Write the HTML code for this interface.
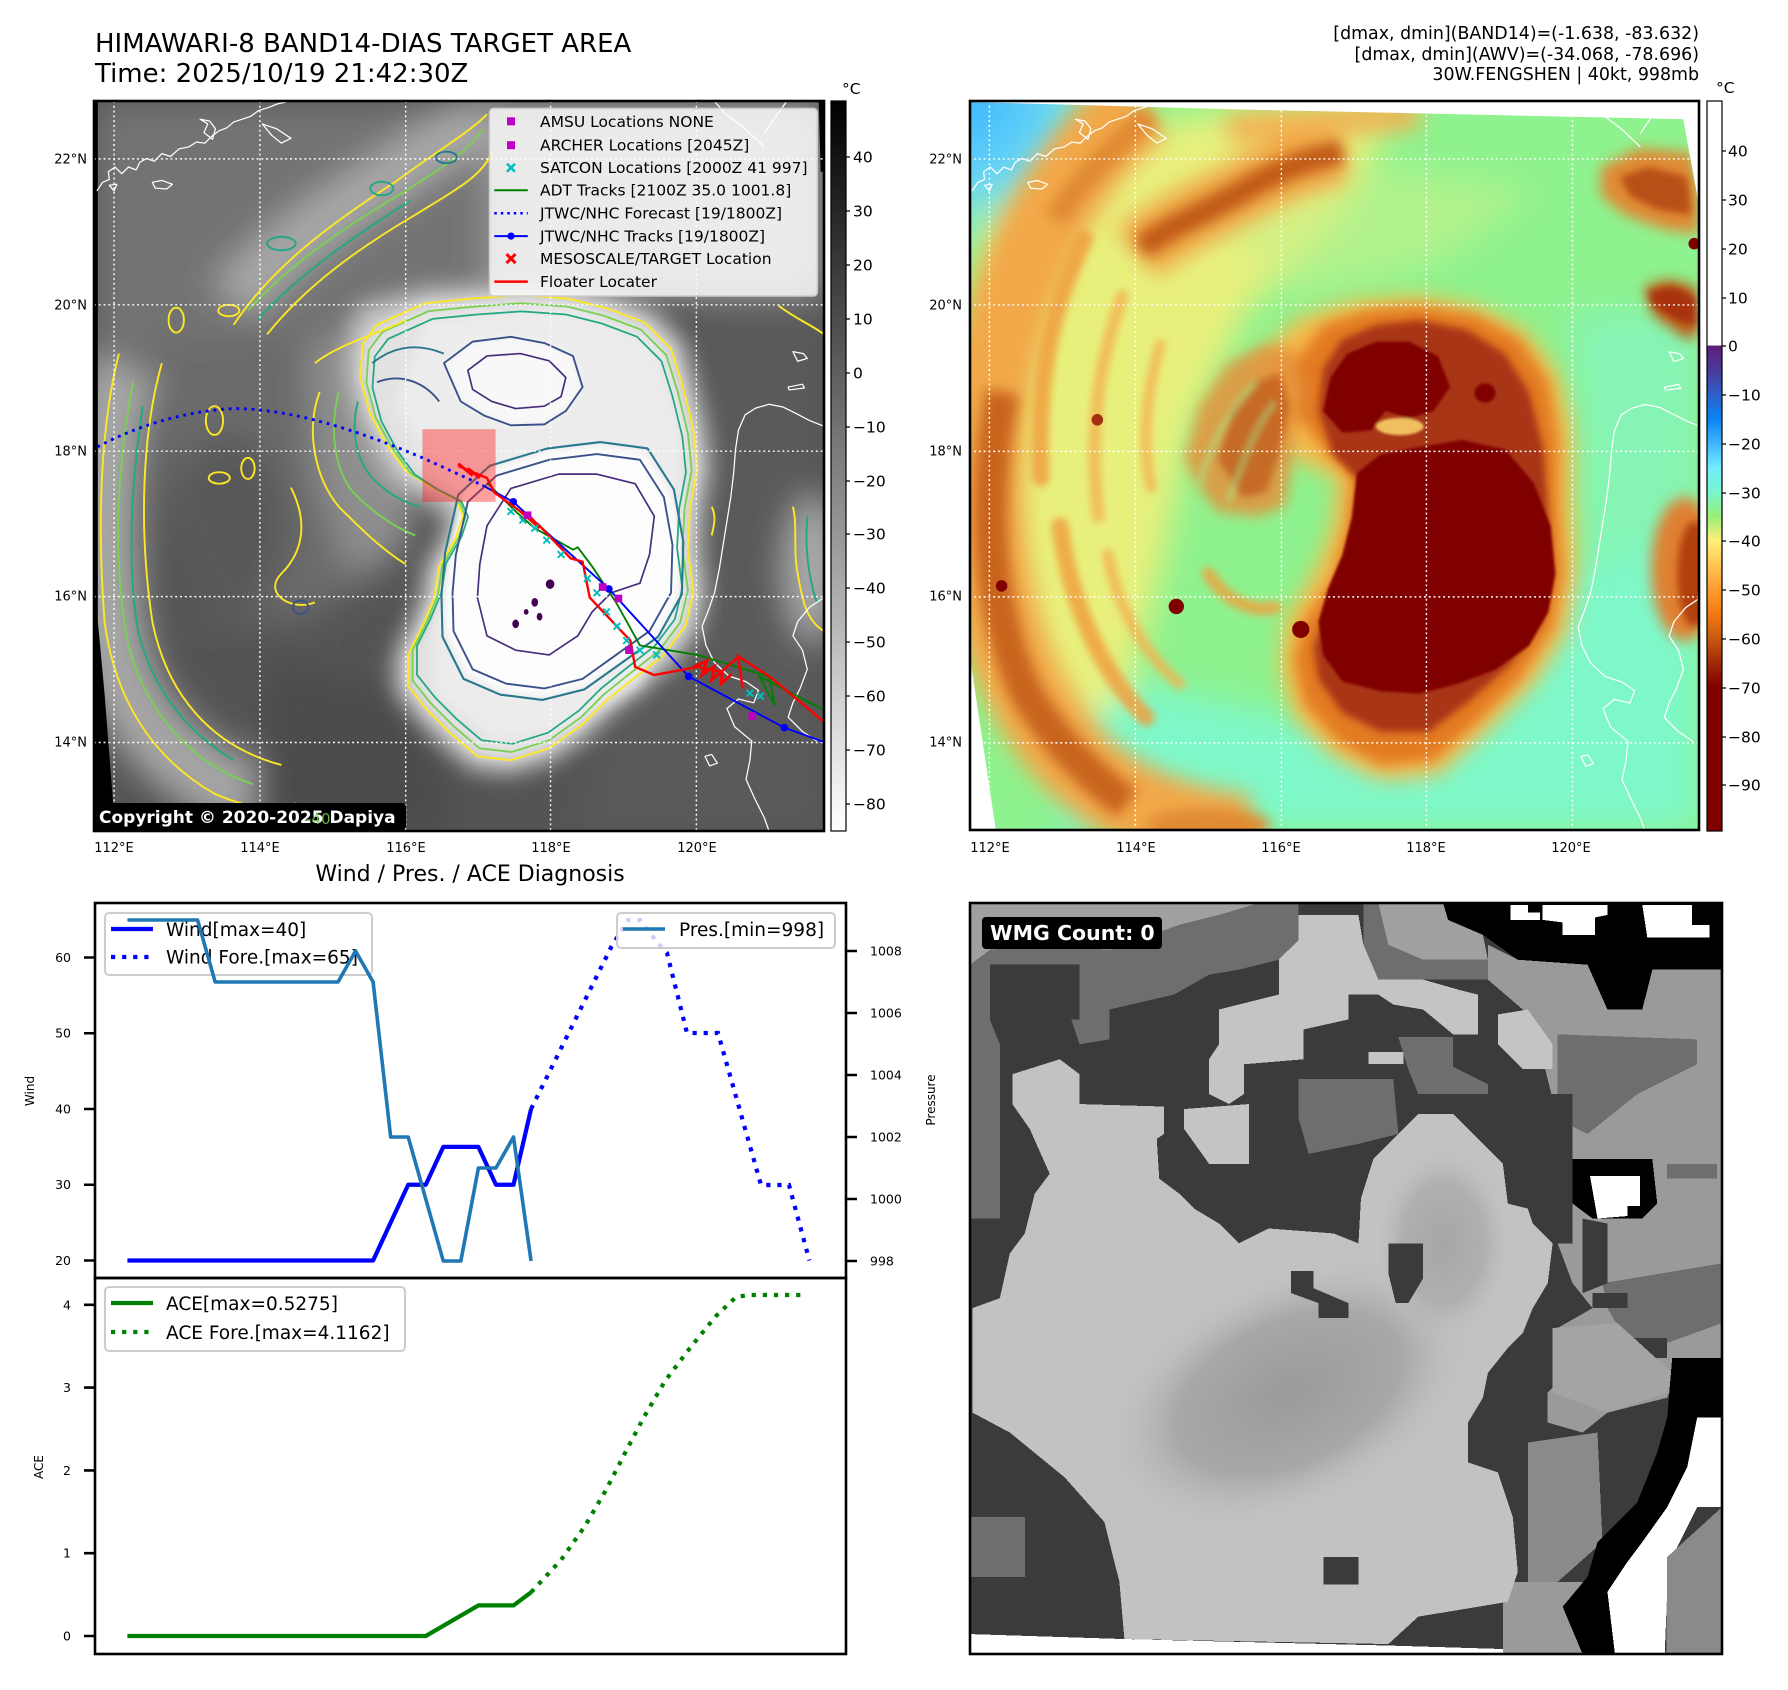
<!DOCTYPE html>
<html><head><meta charset="utf-8"><style>
html,body{margin:0;padding:0;background:#fff;}
svg text{font-family:"DejaVu Sans","Liberation Sans",sans-serif;}
</style></head><body>
<svg xmlns="http://www.w3.org/2000/svg" xmlns:xlink="http://www.w3.org/1999/xlink" width="1788" height="1690" viewBox="0 0 1788 1690" style="display:block">
<defs>
<filter id="f35" x="-50%" y="-50%" width="200%" height="200%"><feGaussianBlur stdDeviation="35"/></filter>
<filter id="f22" x="-50%" y="-50%" width="200%" height="200%"><feGaussianBlur stdDeviation="22"/></filter>
<filter id="f14" x="-50%" y="-50%" width="200%" height="200%"><feGaussianBlur stdDeviation="14"/></filter>
<filter id="f8" x="-50%" y="-50%" width="200%" height="200%"><feGaussianBlur stdDeviation="8"/></filter>
<filter id="f3" x="-50%" y="-50%" width="200%" height="200%"><feGaussianBlur stdDeviation="3"/></filter>
<linearGradient id="gcb" x1="0" y1="0" x2="0" y2="1"><stop offset="0" stop-color="#000"/><stop offset="1" stop-color="#fff"/></linearGradient>
<linearGradient id="awv" x1="0" y1="0" x2="0" y2="1">
<stop offset="0" stop-color="#fff"/><stop offset="0.335" stop-color="#fff"/>
<stop offset="0.3353" stop-color="#5e1e78"/><stop offset="0.3687" stop-color="#4a3a9c"/>
<stop offset="0.4021" stop-color="#2e60c8"/><stop offset="0.4355" stop-color="#0a84f2"/>
<stop offset="0.4689" stop-color="#40b4ff"/><stop offset="0.5023" stop-color="#72ecff"/>
<stop offset="0.5357" stop-color="#78f6cc"/><stop offset="0.5691" stop-color="#98f078"/>
<stop offset="0.6025" stop-color="#fff07a"/><stop offset="0.6359" stop-color="#ffc452"/>
<stop offset="0.6693" stop-color="#ff9c30"/><stop offset="0.7027" stop-color="#f27a12"/>
<stop offset="0.7361" stop-color="#c85a10"/><stop offset="0.7695" stop-color="#a02a08"/>
<stop offset="0.8029" stop-color="#800000"/><stop offset="1" stop-color="#800000"/>
</linearGradient>
<radialGradient id="cyanc" cx="0.5" cy="0.5" r="0.5"><stop offset="0" stop-color="#3cb4ff"/><stop offset="0.55" stop-color="#6ad8f4"/><stop offset="1" stop-color="#8ef0c0" stop-opacity="0"/></radialGradient>
<radialGradient id="wcore" cx="0.5" cy="0.5" r="0.5"><stop offset="0" stop-color="#9a9a9a"/><stop offset="0.6" stop-color="#a8a8a8"/><stop offset="1" stop-color="#c2c2c2" stop-opacity="0"/></radialGradient>
<g id="cx"><path d="M-7,-7 L7,7 M-7,7 L7,-7" stroke="#00bfbf" stroke-width="4"/></g>
</defs>
<rect width="1788" height="1690" fill="#fff"/>

<!-- Titles -->
<text x="95" y="52" font-size="26">HIMAWARI-8 BAND14-DIAS TARGET AREA</text>
<text x="95" y="82" font-size="26">Time: 2025/10/19 21:42:30Z</text>
<text x="1699" y="39" font-size="17.4" text-anchor="end">[dmax, dmin](BAND14)=(-1.638, -83.632)</text>
<text x="1699" y="60" font-size="17.4" text-anchor="end">[dmax, dmin](AWV)=(-34.068, -78.696)</text>
<text x="1699" y="80" font-size="17.4" text-anchor="end">30W.FENGSHEN | 40kt, 998mb</text>

<!-- ================= LEFT IR MAP ================= -->
<svg x="94" y="101" width="730" height="730" viewBox="8 12 1527 1526" preserveAspectRatio="none" overflow="hidden">
<rect x="8" y="12" width="1527" height="1526" fill="#545454"/>
<g filter="url(#f35)">
<polygon points="8,12 1535,12 1535,330 1250,430 1000,400 700,430 450,520 250,520 8,560" fill="#737373"/>
<path d="M300,430 C380,330 520,240 650,155 C720,105 780,75 840,50" stroke="#a8a8a8" stroke-width="110" fill="none"/>
<polygon points="830,12 1535,12 1535,420 830,420" fill="#9a9a9a"/>
<path d="M70,560 C20,750 10,1000 60,1200 C110,1350 250,1460 420,1490" stroke="#a6a6a6" stroke-width="150" fill="none"/>
<polygon points="140,520 600,480 680,700 620,1000 450,1100 250,1100 160,900" fill="#6a6a6a"/>
<polygon points="450,520 650,470 720,700 660,950 540,1000 470,800" fill="#8e8e8e"/>
<ellipse cx="290" cy="900" rx="120" ry="190" fill="#585858"/>
<polygon points="380,1190 700,1260 760,1538 330,1538" fill="#4c4c4c"/>
<polygon points="1280,440 1535,440 1535,1538 1020,1538 1090,1300 1260,1150" fill="#5a5a5a"/>
<ellipse cx="1515" cy="990" rx="60" ry="150" fill="#aaaaaa"/>
</g>
<g filter="url(#f22)">
<polygon points="560,440 700,400 800,395 900,390 1000,395 1090,415 1180,450 1245,515 1270,610 1292,700 1300,780 1285,860 1280,950 1292,1040 1275,1120 1225,1190 1150,1250 1095,1290 1040,1345 965,1395 880,1420 800,1412 735,1360 680,1305 635,1245 635,1170 665,1110 690,1050 700,985 735,925 745,880 700,850 630,810 590,740 555,670 535,590 535,510" fill="#c0c0c0"/>
</g>
<g filter="url(#f14)">
<polygon points="600,480 700,435 800,425 900,418 1000,425 1080,445 1160,475 1215,530 1240,610 1262,700 1270,780 1255,860 1250,950 1262,1040 1245,1110 1200,1170 1130,1225 1080,1265 1030,1315 960,1365 880,1390 810,1382 755,1335 705,1285 665,1235 665,1170 695,1110 720,1050 730,985 765,925 780,880 765,845 715,820 660,785 620,730 585,665 565,590 570,520" fill="#e2e2e2"/>
<polygon points="700,470 1000,440 1180,520 1240,700 1230,900 1230,1100 1150,1230 1000,1330 850,1350 720,1250 720,1100 780,950 800,850 720,780 640,650" fill="#ececec"/>
</g>
<g filter="url(#f8)">
<polygon points="780,830 850,780 960,745 1060,735 1160,750 1215,835 1235,940 1230,1045 1185,1130 1110,1185 1035,1235 950,1255 865,1245 790,1210 745,1125 743,1040 752,955" fill="#fdfdfd"/>
<polygon points="740,560 800,515 880,505 950,518 1010,545 1030,610 995,660 950,688 880,690 825,670 775,640" fill="#f8f8f8"/>
</g>
<!-- contours -->
<g fill="none" stroke-width="4" stroke-linejoin="round">
<polygon points="600,480 700,435 800,425 900,418 1000,425 1080,445 1160,475 1215,530 1240,610 1262,700 1270,780 1255,860 1250,950 1262,1040 1245,1110 1200,1170 1130,1225 1080,1265 1030,1315 960,1365 880,1390 810,1382 755,1335 705,1285 665,1235 665,1170 695,1110 720,1050 730,985 765,925 780,880 765,845 715,820 660,785 620,730 585,665 565,590 570,520" stroke="#fde725"/>
<polygon points="600,480 700,435 800,425 900,418 1000,425 1080,445 1160,475 1215,530 1240,610 1262,700 1270,780 1255,860 1250,950 1262,1040 1245,1110 1200,1170 1130,1225 1080,1265 1030,1315 960,1365 880,1390 810,1382 755,1335 705,1285 665,1235 665,1170 695,1110 720,1050 730,985 765,925 780,880 765,845 715,820 660,785 620,730 585,665 565,590 570,520" stroke="#7ad151" transform="translate(930,900) scale(0.965) translate(-930,-900)"/>
<polygon points="600,480 700,435 800,425 900,418 1000,425 1080,445 1160,475 1215,530 1240,610 1262,700 1270,780 1255,860 1250,950 1262,1040 1245,1110 1200,1170 1130,1225 1080,1265 1030,1315 960,1365 880,1390 810,1382 755,1335 705,1285 665,1235 665,1170 695,1110 720,1050 730,985 765,925 780,880 765,845 715,820 660,785 620,730 585,665 565,590 570,520" stroke="#22a884" transform="translate(930,900) scale(0.93) translate(-930,-900)"/>
<polygon points="790,850 850,795 960,762 1060,750 1150,762 1200,840 1218,940 1215,1040 1170,1120 1100,1170 1030,1220 950,1240 870,1230 800,1200 760,1120 758,1040 765,960" stroke="#2a788e" transform="translate(990,1000) scale(1.1) translate(-990,-1000)"/>
<polygon points="790,850 850,795 960,762 1060,750 1150,762 1200,840 1218,940 1215,1040 1170,1120 1100,1170 1030,1220 950,1240 870,1230 800,1200 760,1120 758,1040 765,960" stroke="#3b528b"/>
<polygon points="830,900 880,822 980,792 1060,792 1140,812 1180,880 1170,960 1150,1020 1090,1040 1050,1080 1020,1130 960,1170 890,1160 830,1130 810,1050 815,980" stroke="#472d7b" stroke-width="3.5"/>
<polygon points="740,560 800,515 880,505 950,518 1010,545 1030,610 995,660 950,688 880,690 825,670 775,640" stroke="#3b528b"/>
<polygon points="790,575 830,545 900,540 960,555 995,590 985,630 950,650 890,655 840,640 800,615" stroke="#472d7b" stroke-width="3.5"/>
<path d="M60,540 C20,700 15,900 30,1100 C50,1250 120,1380 260,1460 C330,1490 390,1500 430,1480" stroke="#fde725"/>
<path d="M150,560 C110,700 100,900 130,1100 C160,1250 250,1360 400,1400" stroke="#fde725"/>
<path d="M90,600 C50,800 50,1000 80,1150 C120,1300 220,1400 340,1440" stroke="#7ad151"/>
<path d="M110,650 C80,850 80,1000 100,1120 C130,1240 200,1330 300,1390" stroke="#22a884"/>
<path d="M300,480 C380,360 500,270 640,180 C720,120 790,80 830,40" stroke="#fde725"/>
<path d="M370,500 C450,400 560,320 680,250 C760,200 820,170 840,120" stroke="#fde725"/>
<path d="M330,450 C420,350 540,270 660,200 C740,150 800,110 820,70" stroke="#7ad151"/>
<path d="M350,470 C440,370 560,290 670,220" stroke="#22a884"/>
<ellipse cx="400" cy="310" rx="30" ry="14" stroke="#22a884"/>
<ellipse cx="610" cy="195" rx="24" ry="14" stroke="#22a884"/>
<ellipse cx="745" cy="130" rx="22" ry="12" stroke="#2a788e"/>
<path d="M470,560 C520,520 600,500 660,470" stroke="#fde725"/>
<path d="M480,620 C450,700 470,800 520,860 C560,900 610,950 660,980" stroke="#fde725"/>
<path d="M520,620 C500,700 510,780 550,830 C590,870 630,900 680,920" stroke="#7ad151"/>
<path d="M560,640 C545,700 555,760 590,800 C620,830 650,850 690,860" stroke="#22a884"/>
<path d="M590,560 C640,520 690,520 740,540" stroke="#2a788e"/>
<path d="M600,600 C650,580 700,600 730,640" stroke="#3b528b"/>
<path d="M420,820 C460,900 440,960 400,1000 C360,1040 420,1080 470,1060" stroke="#fde725"/>
<ellipse cx="290" cy="450" rx="22" ry="12" stroke="#fde725"/>
<ellipse cx="180" cy="470" rx="16" ry="26" stroke="#fde725"/>
<ellipse cx="260" cy="680" rx="18" ry="30" stroke="#fde725"/>
<ellipse cx="330" cy="780" rx="14" ry="22" stroke="#fde725"/>
<ellipse cx="270" cy="800" rx="22" ry="12" stroke="#fde725"/>
<ellipse cx="440" cy="1070" rx="16" ry="14" stroke="#3b528b"/>
<path d="M1470,860 C1480,900 1470,950 1480,1000 C1490,1060 1500,1100 1535,1120" stroke="#fde725"/>
<path d="M1500,880 C1495,940 1500,1000 1520,1060" stroke="#22a884"/>
<path d="M1440,440 C1480,470 1510,480 1535,500" stroke="#fde725"/>
<path d="M1300,860 C1310,880 1305,900 1300,920" stroke="#fde725"/>
</g>
<!-- black no-data -->
<polygon points="8,12 16,12 16,1100 30,1250 48,1480 48,1538 8,1538" fill="#000"/>
<polygon points="1524,12 1535,12 1535,160 1528,160" fill="#000"/>
<!-- coastlines -->
<g id="coast" fill="none" stroke="#fff" stroke-width="2.6" stroke-linejoin="round">
<path d="M14,200 L26,182 L40,176 L38,160 L52,150 L66,164 L80,150 L96,156 L104,140 L118,132 L134,138 L150,122 L168,128 L186,112 L206,108 L222,98 L240,100 L254,86 L270,74 L286,68 L300,56 L318,50 L336,44 L352,32 L372,26 L392,18 L410,14"/>
<path d="M130,182 L150,178 L172,186 L160,196 L136,194 Z"/>
<path d="M40,188 L56,186 L50,200 Z"/>
<path d="M230,50 L246,60 L238,78 L256,92 L262,70 L250,54 Z"/>
<path d="M360,60 L390,70 L420,90 L400,100 L380,84 Z"/>
<path d="M1307,14 L1330,40 L1370,70 L1410,108"/>
<path d="M1456,14 L1430,50 L1410,80"/>
<path d="M1535,692 L1505,680 L1478,666 L1450,652 L1420,646 L1392,654 L1370,668 L1356,700 L1350,740 L1346,790 L1340,840 L1332,890 L1324,940 L1316,990 L1306,1040 L1292,1080 L1280,1110 L1288,1150 L1306,1186 L1336,1214 L1372,1226 L1398,1244 L1388,1270 L1356,1262 L1332,1282 L1348,1320 L1384,1350 L1380,1390 L1372,1430 L1390,1470 L1410,1510 L1420,1538"/>
<path d="M1535,1050 L1505,1070 L1480,1100 L1470,1130 L1490,1160 L1500,1200 L1485,1240 L1470,1270 L1460,1300 L1490,1330 L1520,1350"/>
<path d="M1286,1382 L1300,1378 L1312,1396 L1296,1402 Z"/>
<path d="M1470,536 L1492,540 L1500,550 L1480,556 Z"/>
<path d="M1460,610 L1490,604 L1494,612 L1462,616 Z"/>
</g>
<!-- grid -->
<g id="grid" stroke="#fff" stroke-width="3" stroke-dasharray="4 6" fill="none">
<path d="M50,12 V1538 M355,12 V1538 M660,12 V1538 M963,12 V1538 M1268,12 V1538"/>
<path d="M8,133 H1535 M8,438 H1535 M8,744 H1535 M8,1048 H1535 M8,1353 H1535"/>
</g>
<!-- target box -->
<rect x="695" y="698" width="153" height="152" fill="#ff2020" fill-opacity="0.42"/>
<!-- tracks -->
<path d="M15,735 C100,690 200,660 300,655 C420,655 560,700 700,760 L820,815" stroke="#0000ff" stroke-width="6" stroke-dasharray="6 10" fill="none"/>
<polyline points="830,810 890,870 930,905 1010,950 1020,945 1050,985 1100,1060 1150,1150 1270,1170 1420,1215 1432,1275 1400,1215 1535,1285" stroke="#008000" stroke-width="4" fill="none"/>
<polyline points="820,815 885,850 1085,1032 1252,1215 1452,1322 1535,1352" stroke="#0000ff" stroke-width="4" fill="none"/>
<g fill="#0000ff"><circle cx="885" cy="850" r="8"/><circle cx="1085" cy="1032" r="8"/><circle cx="1252" cy="1215" r="8"/><circle cx="1452" cy="1322" r="8"/></g>
<polyline points="770,775 830,800 845,830 900,870 940,900 1005,968 1030,975 1045,1050 1130,1140 1140,1195 1180,1212 1270,1195 1320,1205 1355,1175 1365,1240 1355,1172 1425,1218 1535,1310" stroke="#ff0000" stroke-width="5" fill="none"/>
<path d="M1262,1195 L1290,1182 L1280,1212 L1306,1194 L1300,1222 L1322,1204 L1320,1230 L1342,1210 M900,870 L935,900 M915,875 L940,905 M770,770 L800,795 M790,780 L815,800" stroke="#ff0000" stroke-width="6" fill="none"/>
<g>
<use xlink:href="#cx" x="880" y="870"/><use xlink:href="#cx" x="905" y="888"/><use xlink:href="#cx" x="930" y="905"/><use xlink:href="#cx" x="955" y="930"/><use xlink:href="#cx" x="985" y="960"/><use xlink:href="#cx" x="1040" y="1010"/><use xlink:href="#cx" x="1060" y="1040"/><use xlink:href="#cx" x="1080" y="1080"/><use xlink:href="#cx" x="1102" y="1110"/><use xlink:href="#cx" x="1122" y="1140"/><use xlink:href="#cx" x="1150" y="1160"/><use xlink:href="#cx" x="1185" y="1170"/><use xlink:href="#cx" x="1380" y="1250"/><use xlink:href="#cx" x="1402" y="1256"/>
</g>
<g fill="#bf00bf"><rect x="1064" y="1020" width="16" height="16"/><rect x="1097" y="1044" width="16" height="16"/><rect x="1119" y="1152" width="16" height="16"/><rect x="1377" y="1290" width="16" height="16"/><rect x="907" y="870" width="16" height="16"/></g>
<g fill="#440154"><ellipse cx="890" cy="1105" rx="7" ry="9"/><ellipse cx="930" cy="1060" rx="7" ry="9"/><ellipse cx="962" cy="1022" rx="9" ry="10"/><ellipse cx="940" cy="1090" rx="6" ry="8"/><ellipse cx="912" cy="1080" rx="5" ry="6"/></g>
</svg>
<rect x="94" y="101" width="730" height="730" fill="none" stroke="#000" stroke-width="2.6"/>

<!-- Left legend -->
<rect x="489.5" y="108.4" width="327.8" height="187.6" rx="4" fill="#fff" fill-opacity="0.8" stroke="#cccccc" stroke-width="1.5"/>
<g font-size="15.5" fill="#000">
<text x="540" y="126.8">AMSU Locations NONE</text>
<text x="540" y="150.7">ARCHER Locations [2045Z]</text>
<text x="540" y="173.2">SATCON Locations [2000Z 41 997]</text>
<text x="540" y="195.7">ADT Tracks [2100Z 35.0 1001.8]</text>
<text x="540" y="218.7">JTWC/NHC Forecast [19/1800Z]</text>
<text x="540" y="241.6">JTWC/NHC Tracks [19/1800Z]</text>
<text x="540" y="264.1">MESOSCALE/TARGET Location</text>
<text x="540" y="287.1">Floater Locater</text>
</g>
<rect x="507" y="117.3" width="8" height="8" fill="#bf00bf"/>
<rect x="507" y="141.2" width="8" height="8" fill="#bf00bf"/>
<path d="M507,163.7 L515,171.7 M507,171.7 L515,163.7" stroke="#00bfbf" stroke-width="2.5"/>
<line x1="494.3" y1="190.2" x2="527.8" y2="190.2" stroke="#008000" stroke-width="2"/>
<line x1="494.3" y1="213.2" x2="527.8" y2="213.2" stroke="#0000ff" stroke-width="2.5" stroke-dasharray="2.5 4"/>
<line x1="494.3" y1="236.1" x2="527.8" y2="236.1" stroke="#0000ff" stroke-width="2"/>
<circle cx="511" cy="236.1" r="3.6" fill="#0000ff"/>
<path d="M506.5,254.1 L515.5,263.1 M506.5,263.1 L515.5,254.1" stroke="#ff0000" stroke-width="3"/>
<line x1="494.3" y1="281.6" x2="527.8" y2="281.6" stroke="#ff0000" stroke-width="2.5"/>

<!-- copyright -->
<rect x="94" y="803" width="312" height="27" rx="4" fill="#000"/>
<text x="99" y="823" font-size="17" font-weight="bold" fill="#fff">Copyright © 2020-2025 Dapiya</text>
<text x="306" y="824" font-size="15" fill="#7ad151" fill-opacity="0.85">-40</text>

<!-- Left colorbar -->
<rect x="831" y="101" width="15" height="730" fill="url(#gcb)" stroke="#000" stroke-width="1.2"/>
<text x="842" y="94" font-size="15.5">°C</text>
<g font-size="15.5">
<text x="853" y="162.5">40</text><text x="853" y="216.5">30</text><text x="853" y="270.5">20</text><text x="853" y="324.5">10</text><text x="853" y="378.5">0</text>
<text x="853" y="432.5">−10</text><text x="853" y="486.5">−20</text><text x="853" y="539.5">−30</text><text x="853" y="593.5">−40</text><text x="853" y="647.5">−50</text>
<text x="853" y="701.5">−60</text><text x="853" y="755.5">−70</text><text x="853" y="809.5">−80</text>
</g>
<g stroke="#000" stroke-width="1.2"><path d="M846,157h4M846,211h4M846,265h4M846,319h4M846,373h4M846,427h4M846,481h4M846,534h4M846,588h4M846,642h4M846,696h4M846,750h4M846,804h4"/></g>

<!-- map tick labels -->
<g font-size="13" text-anchor="middle">
<text x="114" y="852">112°E</text><text x="260" y="852">114°E</text><text x="406" y="852">116°E</text><text x="551" y="852">118°E</text><text x="697" y="852">120°E</text>
<text x="990" y="852">112°E</text><text x="1136" y="852">114°E</text><text x="1281" y="852">116°E</text><text x="1426" y="852">118°E</text><text x="1571" y="852">120°E</text>
</g>
<g font-size="13" text-anchor="end">
<text x="87" y="163.5">22°N</text><text x="87" y="309.5">20°N</text><text x="87" y="455.5">18°N</text><text x="87" y="600.5">16°N</text><text x="87" y="746.5">14°N</text>
<text x="962" y="163.5">22°N</text><text x="962" y="309.5">20°N</text><text x="962" y="455.5">18°N</text><text x="962" y="600.5">16°N</text><text x="962" y="746.5">14°N</text>
</g>

<!-- ================= RIGHT AWV MAP ================= -->
<svg x="970" y="101" width="729" height="729" viewBox="22 12 1523 1523" preserveAspectRatio="none" overflow="hidden">
<rect x="22" y="12" width="1523" height="1523" fill="#8ef28e"/>
<g filter="url(#f35)">
<polygon points="250,1200 700,1300 1000,1300 1250,1000 1545,850 1545,1535 200,1535" fill="#7ef8c8"/>
<polygon points="1280,450 1545,450 1545,900 1300,1000" fill="#86f4b4"/>
<polygon points="60,150 500,40 900,40 800,250 600,450 480,700 420,1000 350,1250 200,1350 60,1200 30,800" fill="#f2f07a" fill-opacity="0.9"/>
<polygon points="500,250 900,150 1200,200 1000,350 700,420" fill="#caf28a" fill-opacity="0.6"/>
<circle cx="22" cy="12" r="330" fill="url(#cyanc)"/>
</g>
<g filter="url(#f22)">
<path d="M380,20 C220,140 90,380 55,680 C30,980 90,1230 240,1390 C330,1480 450,1530 600,1545" stroke="#f2a848" stroke-width="170" fill="none"/>
<path d="M370,330 C440,270 520,240 600,195 C680,150 740,130 800,120" stroke="#f0a444" stroke-width="130" fill="none"/>
<path d="M560,70 L960,40" stroke="#f2b452" stroke-width="60" fill="none"/>
</g>
<g filter="url(#f8)" fill="none" stroke-linecap="round">
<path d="M260,300 C190,450 160,600 170,800" stroke="#f0a040" stroke-width="36" stroke-opacity="0.85"/>
<path d="M340,420 C290,560 270,700 290,880" stroke="#f4b050" stroke-width="26" stroke-opacity="0.8"/>
<path d="M210,900 C230,1050 290,1200 390,1300" stroke="#f0a040" stroke-width="36" stroke-opacity="0.85"/>
<path d="M310,960 C330,1070 380,1160 460,1230" stroke="#f4b050" stroke-width="24" stroke-opacity="0.8"/>
<path d="M420,520 C390,620 380,720 400,820" stroke="#f4b050" stroke-width="22" stroke-opacity="0.8"/>
<path d="M520,1000 C560,1060 610,1080 660,1070" stroke="#f0a040" stroke-width="28" stroke-opacity="0.8"/>
</g>
<g filter="url(#f14)">
<path d="M90,620 C45,850 60,1080 140,1250 C200,1350 270,1420 350,1480" stroke="#c8641e" stroke-width="70" fill="none"/>
<path d="M400,40 C320,110 250,180 200,260" stroke="#e08a30" stroke-width="50" fill="none"/>
<path d="M380,320 C440,270 520,245 600,195 C680,150 740,130 800,120" stroke="#c05a14" stroke-width="50" fill="none"/>
<ellipse cx="520" cy="1525" rx="130" ry="35" fill="#e08a30"/>
</g>
<!-- storm halo -->
<g filter="url(#f22)">
<polygon points="620,560 700,470 820,430 950,420 1080,440 1180,490 1250,580 1280,700 1280,850 1290,1000 1270,1120 1200,1230 1100,1330 1000,1420 880,1430 780,1380 700,1300 670,1200 680,1100 740,1000 780,900 790,800 700,760 640,680" fill="#f8b848"/>
</g>
<g filter="url(#f14)">
<polygon points="700,560 760,480 850,450 960,440 1080,460 1170,510 1230,600 1250,720 1250,860 1260,1000 1240,1110 1170,1220 1080,1310 990,1390 880,1400 790,1350 720,1270 700,1180 720,1100 780,1010 810,900 820,800 760,740 700,660" fill="#e27a20"/>
<polygon points="470,760 500,650 560,560 640,520 700,530 720,620 700,720 690,800 680,860 620,880 540,870 500,820" fill="#e4923c" fill-opacity="0.85"/>
</g>
<g filter="url(#f8)">
<polygon points="760,570 800,510 870,480 960,470 1060,490 1140,540 1190,620 1220,740 1230,880 1235,1000 1215,1100 1150,1190 1060,1270 980,1330 880,1330 800,1290 750,1220 740,1150 770,1080 810,1000 830,900 840,810 780,750 750,660" fill="#a83412"/>
<polygon points="540,760 570,660 620,600 670,580 690,650 665,760 640,830 590,840" fill="#c0581c" fill-opacity="0.75"/>
</g>
<g filter="url(#f8)" fill="none" stroke="#a8f090" stroke-width="10" stroke-opacity="0.7">
<path d="M500,820 C520,740 560,660 620,600"/>
<path d="M560,850 C590,780 610,700 660,640"/>
</g>
<g filter="url(#f3)">
<polygon points="830,790 880,750 960,735 1050,720 1140,740 1200,810 1235,900 1245,1000 1230,1080 1190,1150 1120,1200 1040,1230 960,1250 880,1245 800,1225 760,1170 750,1100 770,1030 800,960 820,880" fill="#800000"/>
<polygon points="775,590 810,540 870,515 940,515 1000,545 1025,610 990,660 940,675 890,660 860,700 800,705 760,660" fill="#800000"/>
<ellipse cx="1098" cy="622" rx="22" ry="20" fill="#800000"/>
<ellipse cx="920" cy="692" rx="50" ry="18" fill="#f0c060"/>
</g>
<!-- right patches -->
<g filter="url(#f14)">
<ellipse cx="1515" cy="990" rx="70" ry="150" fill="#e08030"/>
<polygon points="1340,150 1420,110 1530,120 1545,200 1545,290 1470,280 1390,250 1340,210" fill="#e08a34"/>
<polygon points="1430,400 1480,385 1540,400 1545,500 1520,510 1450,460" fill="#c05a18"/>
</g>
<g filter="url(#f8)">
<ellipse cx="1535" cy="1000" rx="35" ry="110" fill="#b04010"/>
<polygon points="1380,170 1440,150 1520,170 1530,250 1460,240 1400,210" fill="#b85018"/>
<polygon points="1440,410 1490,400 1535,420 1540,480 1500,470 1450,440" fill="#a83010"/>
</g>
<g fill="#800000">
<circle cx="453" cy="1068" r="16"/><circle cx="713" cy="1116" r="18"/><circle cx="88" cy="1025" r="12"/><circle cx="1535" cy="310" r="12"/>
<circle cx="288" cy="678" r="12" fill="#a03010"/>
</g>
<!-- white no-data -->
<polygon points="22,10 1545,10 1545,230 1512,50 600,30 22,14" fill="#fff"/>
<polygon points="22,1175 76,1535 22,1535" fill="#fff"/>
<use xlink:href="#coast" transform="translate(12.5,0)"/>
<use xlink:href="#grid" transform="translate(12.5,0)"/>
</svg>
<rect x="970" y="101" width="729" height="729" fill="none" stroke="#000" stroke-width="2.6"/>

<!-- Right colorbar -->
<rect x="1707" y="101" width="15" height="730" fill="url(#awv)" stroke="#000" stroke-width="1.2"/>
<text x="1716" y="93" font-size="15.5">°C</text>
<g font-size="15.5">
<text x="1728" y="156.5">40</text><text x="1728" y="205.5">30</text><text x="1728" y="254.5">20</text><text x="1728" y="303.5">10</text><text x="1728" y="351.5">0</text>
<text x="1728" y="400.5">−10</text><text x="1728" y="449.5">−20</text><text x="1728" y="498.5">−30</text><text x="1728" y="546.5">−40</text><text x="1728" y="595.5">−50</text>
<text x="1728" y="644.5">−60</text><text x="1728" y="693.5">−70</text><text x="1728" y="742.5">−80</text><text x="1728" y="790.5">−90</text>
</g>
<g stroke="#000" stroke-width="1.2"><path d="M1722,151h4M1722,200h4M1722,249h4M1722,298h4M1722,346h4M1722,395h4M1722,444h4M1722,493h4M1722,541h4M1722,590h4M1722,639h4M1722,688h4M1722,737h4M1722,785h4"/></g>

<!-- ================= BOTTOM LEFT PLOTS ================= -->
<text x="470" y="881" font-size="22" text-anchor="middle">Wind / Pres. / ACE Diagnosis</text>
<polyline points="127.4,1260.5 373.1,1260.5 408.2,1184.75 425.75,1184.75 443.3,1146.9 478.4,1146.9 495.95,1184.75 513.5,1184.75 531.05,1109" fill="none" stroke="#0000ff" stroke-width="4.2" stroke-linejoin="round"/>
<polyline points="531.05,1109 611.4,946.7 628,920 640,920 657,942 667,953 687,1033 718,1033 761,1185 789,1185 809.4,1260.5" fill="none" stroke="#0000ff" stroke-width="4.2" stroke-dasharray="4.2 6.9"/>
<rect x="105" y="913" width="267" height="62" rx="4" fill="#fff" fill-opacity="0.8" stroke="#cccccc" stroke-width="2"/>
<line x1="111" y1="929" x2="153" y2="929" stroke="#0000ff" stroke-width="4.2"/>
<line x1="111" y1="957" x2="153" y2="957" stroke="#0000ff" stroke-width="4.2" stroke-dasharray="4.2 6.9"/>
<text x="166" y="936" font-size="18.5">Wind[max=40]</text>
<text x="166" y="963.5" font-size="18.5">Wind Fore.[max=65]</text>
<polyline points="127.4,920 197.6,920 215.15,982 338,982 355.55,951 373.1,982 390.65,1137 408.2,1137 443.3,1261 460.85,1261 478.4,1168 495.95,1168 513.5,1137 531.05,1261" fill="none" stroke="#1f77b4" stroke-width="3.6" stroke-linejoin="round"/>
<rect x="617" y="913" width="218" height="35" rx="4" fill="#fff" fill-opacity="0.8" stroke="#cccccc" stroke-width="2"/>
<line x1="623" y1="929" x2="665" y2="929" stroke="#1f77b4" stroke-width="3.6"/>
<text x="679" y="936" font-size="18.5">Pres.[min=998]</text>
<polyline points="127.4,1636 425.75,1636 478.4,1605.4 513.5,1605.4 531.05,1592.3" fill="none" stroke="#008000" stroke-width="4.2" stroke-linejoin="round"/>
<polyline points="531.05,1592.3 561,1560 585,1526 606,1490 625,1453 644,1417 665,1381 690,1348 716,1316 736,1297 749,1295 807,1295" fill="none" stroke="#008000" stroke-width="4.2" stroke-dasharray="4.2 6.9"/>
<rect x="105" y="1287" width="300" height="64" rx="4" fill="#fff" fill-opacity="0.8" stroke="#cccccc" stroke-width="2"/>
<line x1="111" y1="1303" x2="153" y2="1303" stroke="#008000" stroke-width="4.2"/>
<line x1="111" y1="1332" x2="153" y2="1332" stroke="#008000" stroke-width="4.2" stroke-dasharray="4.2 6.9"/>
<text x="166" y="1310" font-size="18.5">ACE[max=0.5275]</text>
<text x="166" y="1339" font-size="18.5">ACE Fore.[max=4.1162]</text>
<rect x="95" y="903" width="751" height="375" fill="none" stroke="#000" stroke-width="2.6"/>
<rect x="95" y="1278" width="751" height="376" fill="none" stroke="#000" stroke-width="2.6"/>
<g stroke="#000" stroke-width="2.6">
<path d="M84,1260.5H95M84,1184.75H95M84,1109H95M84,1033.25H95M84,957.5H95"/>
<path d="M846,1261H857M846,1199H857M846,1137H857M846,1075H857M846,1013H857M846,951H857"/>
<path d="M84,1636H95M84,1553.2H95M84,1470.4H95M84,1387.6H95M84,1304.8H95"/>
</g>
<g font-size="12.5" text-anchor="end">
<text x="71" y="1265">20</text><text x="71" y="1189">30</text><text x="71" y="1113.5">40</text><text x="71" y="1037.5">50</text><text x="71" y="962">60</text>
<text x="71" y="1640.5">0</text><text x="71" y="1557.7">1</text><text x="71" y="1475">2</text><text x="71" y="1392">3</text><text x="71" y="1309.3">4</text>
</g>
<g font-size="12.5">
<text x="870" y="1265.5">998</text><text x="870" y="1203.5">1000</text><text x="870" y="1141.5">1002</text><text x="870" y="1079.5">1004</text><text x="870" y="1017.5">1006</text><text x="870" y="955.5">1008</text>
</g>
<text transform="translate(34,1091) rotate(-90)" font-size="12" text-anchor="middle">Wind</text>
<text transform="translate(43,1467) rotate(-90)" font-size="12" text-anchor="middle">ACE</text>
<text transform="translate(935,1100) rotate(-90)" font-size="12" text-anchor="middle">Pressure</text>

<!-- ================= BOTTOM RIGHT WMG ================= -->
<svg x="970" y="903" width="752" height="751" viewBox="20 16 1510 1509" preserveAspectRatio="none" overflow="hidden" shape-rendering="crispEdges">
<rect x="20" y="16" width="1510" height="1509" fill="#3b3b3b"/>
<polygon points="20,16 600,16 520,40 440,60 300,110 160,100 60,110 20,140" fill="#a0a0a0"/>
<polygon points="20,140 60,110 160,100 300,110 440,60 520,40 600,16 680,16 680,90 640,130 560,150 500,160 430,200 300,230 300,290 240,300 220,240 60,250 20,250" fill="#6e6e6e"/>
<polygon points="60,140 240,140 240,250 60,250" fill="#3b3b3b"/>
<polygon points="20,250 60,250 80,300 80,650 20,650" fill="#6e6e6e"/>
<polygon points="20,1250 130,1250 130,1370 20,1370" fill="#6e6e6e"/>
<polygon points="810,16 840,16 860,100 930,130 1060,130 1060,170 930,170 840,170 810,100" fill="#6e6e6e"/>
<polygon points="840,16 970,16 980,50 1050,80 1060,130 930,130 860,100" fill="#a0a0a0"/>
<polygon points="1060,100 1120,130 1260,140 1300,230 1370,230 1390,150 1530,150 1530,930 1470,930 1440,960 1420,1010 1300,1040 1250,1080 1180,1060 1180,1000 1230,950 1200,870 1270,830 1230,780 1200,700 1200,450 1170,330 1130,230 1060,170" fill="#9a9a9a"/>
<polygon points="1200,280 1480,290 1480,340 1360,400 1260,480 1200,450" fill="#6e6e6e"/>
<polygon points="1290,780 1530,740 1530,860 1420,900 1340,900 1300,830" fill="#6e6e6e"/>
<polygon points="1420,540 1520,540 1520,570 1420,570" fill="#6e6e6e"/>
<polygon points="1100,400 1230,400 1230,700 1180,700 1150,640 1110,540" fill="#3b3b3b"/>
<polygon points="1250,650 1300,660 1300,780 1250,800" fill="#3b3b3b"/>
<polygon points="1270,800 1340,800 1340,830 1270,830" fill="#3b3b3b"/>
<polygon points="1350,890 1420,890 1420,930 1350,930" fill="#3b3b3b"/>
<polygon points="1190,870 1320,860 1430,960 1420,1000 1300,1040 1190,1000" fill="#a4a4a4"/>
<polygon points="1140,1100 1280,1080 1290,1300 1200,1380 1140,1380" fill="#8a8a8a"/>
<polygon points="1090,1380 1250,1380 1250,1525 1090,1525" fill="#9a9a9a"/>
<polygon points="105,360 200,330 240,360 240,420 410,425 410,480 395,490 400,570 440,600 470,630 520,660 560,700 620,670 750,680 800,700 805,610 830,530 860,500 920,440 990,440 1060,510 1090,540 1100,620 1140,630 1150,660 1190,700 1180,780 1150,830 1130,880 1100,910 1060,960 1050,1010 1020,1060 1020,1140 1080,1160 1110,1250 1120,1360 1100,1420 920,1450 860,1505 330,1495 320,1380 290,1260 210,1170 100,1080 25,1040 25,830 80,810 100,720 130,680 150,600 180,560 140,470 105,420" fill="#c2c2c2"/>
<ellipse cx="660" cy="1000" rx="400" ry="240" transform="rotate(-25 660 1000)" fill="url(#wcore)" shape-rendering="auto"/>
<ellipse cx="970" cy="700" rx="140" ry="200" fill="url(#wcore)" fill-opacity="0.7" shape-rendering="auto"/>
<polygon points="520,230 580,215 640,200 640,130 680,90 680,40 800,40 810,100 840,170 930,170 1000,190 1040,200 1040,280 990,280 930,230 870,220 840,200 780,200 780,250 690,270 690,330 570,340 570,400 540,420 500,400 500,330 520,300" fill="#c4c4c4"/>
<polygon points="450,430 580,420 580,540 500,540 450,470" fill="#c4c4c4"/>
<polygon points="820,315 890,315 890,340 820,340" fill="#c4c4c4"/>
<polygon points="1080,240 1140,230 1190,300 1190,350 1130,350 1080,300" fill="#c4c4c4"/>
<polygon points="680,370 870,370 880,480 800,500 700,520 680,450" fill="#6e6e6e"/>
<polygon points="880,285 990,285 990,345 1060,380 1060,400 920,400 900,350" fill="#6e6e6e"/>
<polygon points="665,755 710,755 710,790 780,820 780,850 720,850 720,820 665,800" fill="#3b3b3b"/>
<polygon points="860,700 930,700 930,770 900,820 875,820 860,760" fill="#3b3b3b"/>
<polygon points="730,1330 800,1330 800,1385 730,1385" fill="#3b3b3b"/>
<polygon points="1060,960 1100,960 1100,1000 1060,1000" fill="#3b3b3b"/>
<polygon points="970,16 1530,16 1530,150 1390,150 1370,230 1300,230 1260,140 1120,130 1050,80 980,50" fill="#000"/>
<polygon points="1105,20 1140,20 1140,35 1165,35 1165,50 1105,50" fill="#fff"/>
<polygon points="1170,20 1300,20 1300,40 1275,45 1275,80 1210,80 1210,55 1170,50" fill="#fff"/>
<polygon points="1370,20 1470,20 1470,60 1505,60 1505,85 1380,85" fill="#fff"/>
<polygon points="1230,530 1390,530 1400,620 1370,650 1270,650 1230,620" fill="#000"/>
<polygon points="1265,565 1365,565 1365,625 1340,625 1340,645 1280,650" fill="#fff"/>
<polygon points="1430,930 1530,930 1530,1050 1490,1060 1470,1150 1420,1240 1400,1310 1370,1370 1340,1420 1340,1525 1250,1525 1210,1430 1260,1370 1280,1300 1360,1220 1400,1120 1420,1050" fill="#000"/>
<polygon points="1480,1050 1530,1050 1530,1230 1480,1230 1440,1310 1420,1400 1415,1525 1315,1525 1300,1400 1340,1340 1370,1300 1420,1230 1460,1150" fill="#fff"/>
<polygon points="1420,1330 1530,1230 1530,1525 1418,1525" fill="#8a8a8a"/>
<polygon points="20,1485 330,1495 860,1508 1090,1515 1090,1525 20,1525" fill="#fff"/>
</svg>
<rect x="970" y="903" width="752" height="751" fill="none" stroke="#000" stroke-width="2.6"/>
<rect x="982" y="917" width="180" height="32" rx="4" fill="#000"/>
<text x="990" y="940" font-size="20.5" font-weight="bold" fill="#fff">WMG Count: 0</text>
</svg>
</body></html>
